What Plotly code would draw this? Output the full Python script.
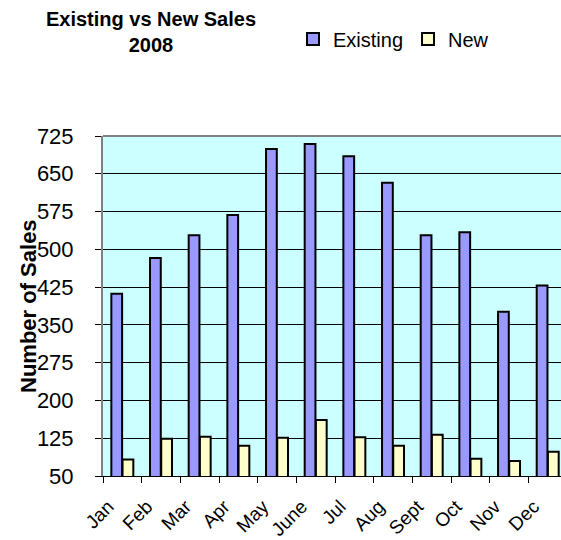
import plotly.graph_objects as go

months = ["Jan", "Feb", "Mar", "Apr", "May", "June", "Jul", "Aug", "Sept", "Oct", "Nov", "Dec"]
existing = [412, 483, 528, 568, 699, 709, 685, 632, 528, 534, 376, 428]
new = [83, 124, 128, 110, 126, 161, 127, 110, 132, 84, 80, 98]
y_ticks = [50, 125, 200, 275, 350, 425, 500, 575, 650, 725]

FONT = "Liberation Sans, Arial, sans-serif"
W, H = 561, 540
L, T, B = 103, 136, 64
PW, PH = W - L, H - T - B

fig = go.Figure()
fig.add_trace(go.Bar(name="Existing", x=months, y=existing,
                     marker=dict(color="#9999FF", line=dict(color="#000000", width=2))))
fig.add_trace(go.Bar(name="New", x=months, y=new,
                     marker=dict(color="#FFFFCC", line=dict(color="#000000", width=2))))

fig.update_layout(
    width=W, height=H,
    margin=dict(l=L, r=0, t=T, b=B),
    paper_bgcolor="white",
    plot_bgcolor="#CCFFFF",
    barmode="group",
    bargap=0.42,
    bargroupgap=0.04,
    font=dict(family=FONT, color="black", size=20),
    title=dict(text="<b>Existing vs New Sales<br>2008</b>",
               x=151/W, xref="container", xanchor="center",
               y=1 - 26/H, yref="container", yanchor="middle",
               font=dict(size=20, family=FONT, color="black")),
    legend=dict(orientation="h", xref="container", yref="container",
                x=293/W, xanchor="left", y=1 - 39/H, yanchor="middle",
                font=dict(size=20, family=FONT), itemwidth=30,
                bgcolor="rgba(0,0,0,0)", traceorder="normal"),
    showlegend=True,
    annotations=[dict(text="<b>Number of Sales</b>", textangle=-90,
                      xref="paper", yref="paper",
                      x=(28 - L)/PW, y=0.5, xanchor="center", yanchor="middle",
                      showarrow=False, font=dict(size=22, family=FONT, color="black"))],
)

fig.update_xaxes(
    type="category",
    range=[-0.5, 11.344],
    tickson="boundaries",
    ticks="outside", ticklen=6, tickcolor="black", tickwidth=1,
    tickangle=-45,
    tickfont=dict(size=19, family=FONT),
    ticklabelshift=-14, ticklabelstandoff=11,
    showline=True, linecolor="black", linewidth=1,
    showgrid=False, zeroline=False,
    automargin=False,
)
fig.update_yaxes(
    range=[50, 725],
    tickvals=y_ticks,
    ticktext=[str(v) for v in y_ticks],
    ticks="outside", ticklen=6, tickcolor="black", tickwidth=1,
    tickfont=dict(size=22, family=FONT),
    ticklabelstandoff=17,
    showline=True, linecolor="#808080", linewidth=2,
    showgrid=True, gridcolor="black", gridwidth=1,
    zeroline=False,
    automargin=False,
)

fig.add_shape(type="line", xref="paper", yref="paper", x0=0, x1=1, y0=1, y1=1,
              line=dict(color="#808080", width=2))

fig.write_html("out.html",
               config={"displayModeBar": False},
               post_script="document.body.style.margin='0';"
                           "document.documentElement.style.overflow='hidden';")
